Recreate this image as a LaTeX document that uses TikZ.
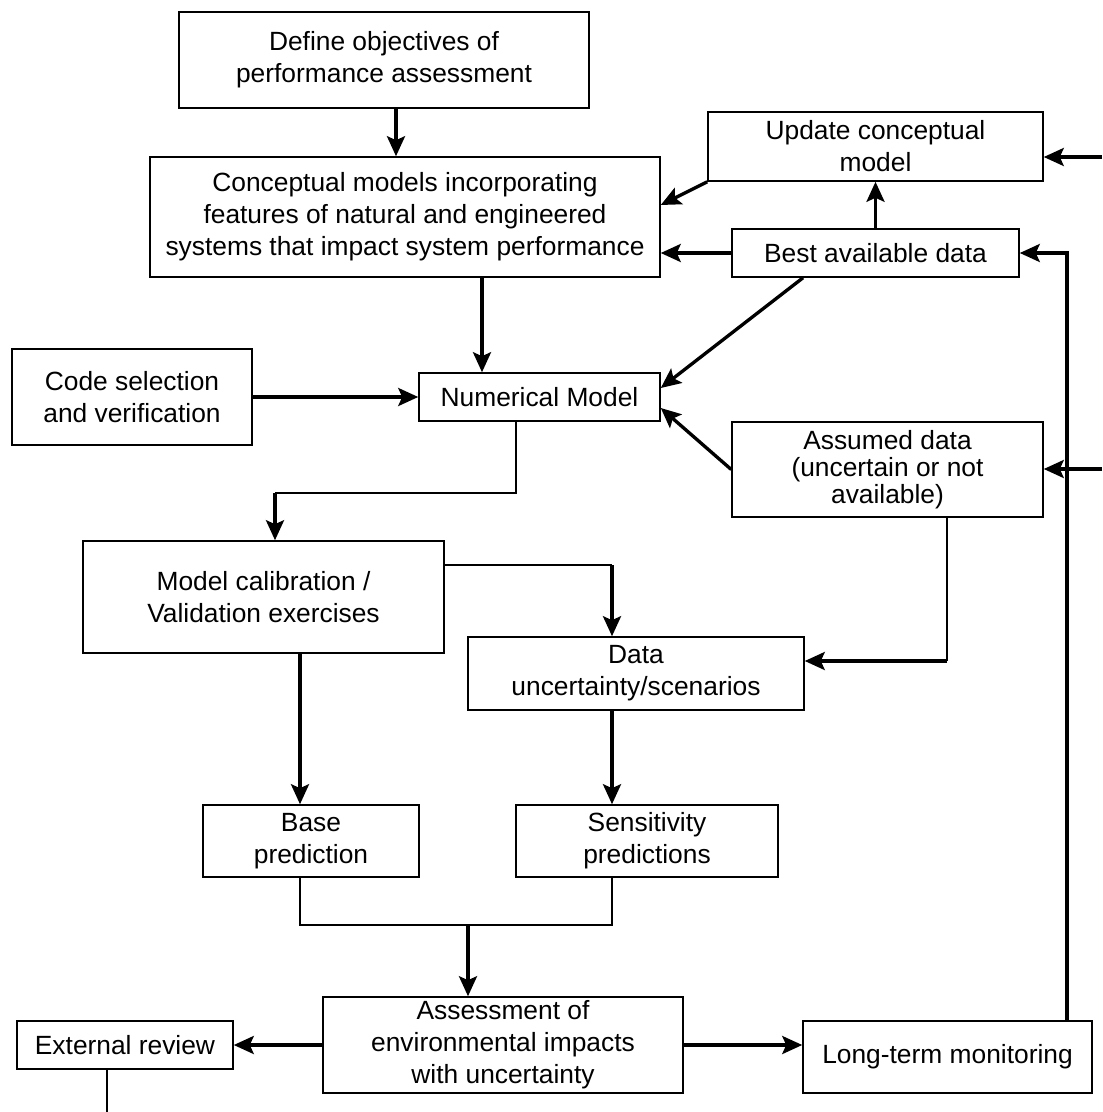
\documentclass[tikz,border=0pt]{standalone}
\usepackage{fontspec}
\setmainfont{Liberation Sans}
\usetikzlibrary{arrows.meta}
\begin{document}
\begin{tikzpicture}[x=0.02cm,y=-0.02cm,
  box/.style={draw, line width=0.9pt, align=center, inner sep=0pt, font=\fontsize{15}{18.2}\selectfont},
  thk/.style={line width=1.9pt, -{Stealth[length=0.4cm,width=0.36cm,inset=0.08cm]}},
  thn/.style={line width=0.9pt},
  med/.style={line width=1.3pt}]
\useasboundingbox (0,0) rectangle (1102,1112);

% nodes
\node[box, minimum width=8.2cm,  minimum height=1.92cm] (def)  at (384,60)     {Define objectives of\\performance assessment};
\node[box, minimum width=10.2cm, minimum height=2.4cm]  (con)  at (405,217)    {Conceptual models incorporating\\features of natural and engineered\\systems that impact system performance};
\node[box, minimum width=6.7cm,  minimum height=1.38cm] (upd)  at (875.5,146.5) {Update conceptual\\model};
\node[box, minimum width=5.74cm, minimum height=0.96cm] (best) at (875.5,253)  {Best available data};
\node[box, minimum width=4.8cm,  minimum height=1.92cm] (code) at (132,397)    {Code selection\\and verification};
\node[box, minimum width=4.82cm, minimum height=0.96cm] (num)  at (539.5,397)  {Numerical Model};
\node[box, minimum width=6.22cm, minimum height=1.9cm, font=\fontsize{15}{15.5}\selectfont] (ass) at (887.5,469.5) {Assumed data\\(uncertain or not\\available)};
\node[box, minimum width=7.22cm, minimum height=2.24cm] (cal)  at (263.5,597)  {Model calibration /\\Validation exercises};
\node[box, minimum width=6.72cm, minimum height=1.46cm] (dat)  at (636,673.5)  {Data\\uncertainty/scenarios};
\node[box, minimum width=4.32cm, minimum height=1.44cm] (base) at (311,841)    {Base\\prediction};
\node[box, minimum width=5.24cm, minimum height=1.44cm] (sen)  at (647,841)    {Sensitivity\\predictions};
\node[box, minimum width=7.2cm,  minimum height=1.92cm] (asm)  at (503,1045)   {Assessment of\\environmental impacts\\with uncertainty};
\node[box, minimum width=4.32cm, minimum height=0.96cm] (ext)  at (125,1045)   {External review};
\node[box, minimum width=5.78cm, minimum height=1.44cm] (ltm)  at (947.5,1057) {Long-term monitoring};

% helper coordinates
\coordinate (xa) at (396,0);
\coordinate (xb) at (482,0);
\coordinate (xc) at (516,0);
\coordinate (yc) at (0,493);
\coordinate (xd) at (275,0);
\coordinate (ye) at (0,565);
\coordinate (xe) at (612,0);
\coordinate (xf) at (947,0);
\coordinate (yf) at (0,661);
\coordinate (xg) at (300,0);
\coordinate (yg) at (0,925);
\coordinate (xh) at (468,0);
\coordinate (xm) at (1067,0);
\coordinate (xx) at (107,0);
\coordinate (xk) at (803,0);
\coordinate (yk) at (0,205);
\coordinate (yn1) at (0,388);
\coordinate (yn2) at (0,408);
\coordinate (r1) at (1102,157);
\coordinate (r2) at (1102,469);
\coordinate (bot) at (107,1112);

% connectors
\draw[thk] (def.south -| xa) -- (con.north -| xa);
\draw[thk] (upd.south west) -- (con.east |- yk);
\draw[thk] (best.north) -- (upd.south);
\draw[thk] (best.west) -- (best.west -| con.east);
\draw[thk] (r1) -- (r1 -| upd.east);
\draw[thk] (ltm.north -| xm) |- (best.east);
\draw[thk] (r2) -- (r2 -| ass.east);
\draw[thk] (con.south -| xb) -- (num.north -| xb);
\draw[thk] (best.south -| xk) -- (num.east |- yn1);
\draw[thk] (ass.west) -- (num.east |- yn2);
\draw[thk] (code.east) -- (code.east -| num.west);

\draw[thn] (num.south -| xc) -- (xc |- yc) -- (xd |- yc);
\draw[thk] (xd |- yc) -- (cal.north -| xd);

\draw[thn] (cal.east |- ye) -- (xe |- ye);
\draw[thk] (xe |- ye) -- (dat.north -| xe);

\draw[med] (ass.south -| xf) -- (xf |- yf);
\draw[thk] (xf |- yf) -- (dat.east |- yf);

\draw[thk] (cal.south -| xg) -- (base.north -| xg);
\draw[thk] (dat.south -| xe) -- (sen.north -| xe);

\draw[thn] (base.south -| xg) -- (xg |- yg) -- (xe |- yg) -- (sen.south -| xe);
\draw[thk] (xh |- yg) -- (asm.north -| xh);

\draw[thk] (asm.west) -- (ext.east);
\draw[thk] (asm.east) -- (ltm.west |- asm.east);
\draw[med] (ext.south -| xx) -- (bot);
\end{tikzpicture}
\end{document}
